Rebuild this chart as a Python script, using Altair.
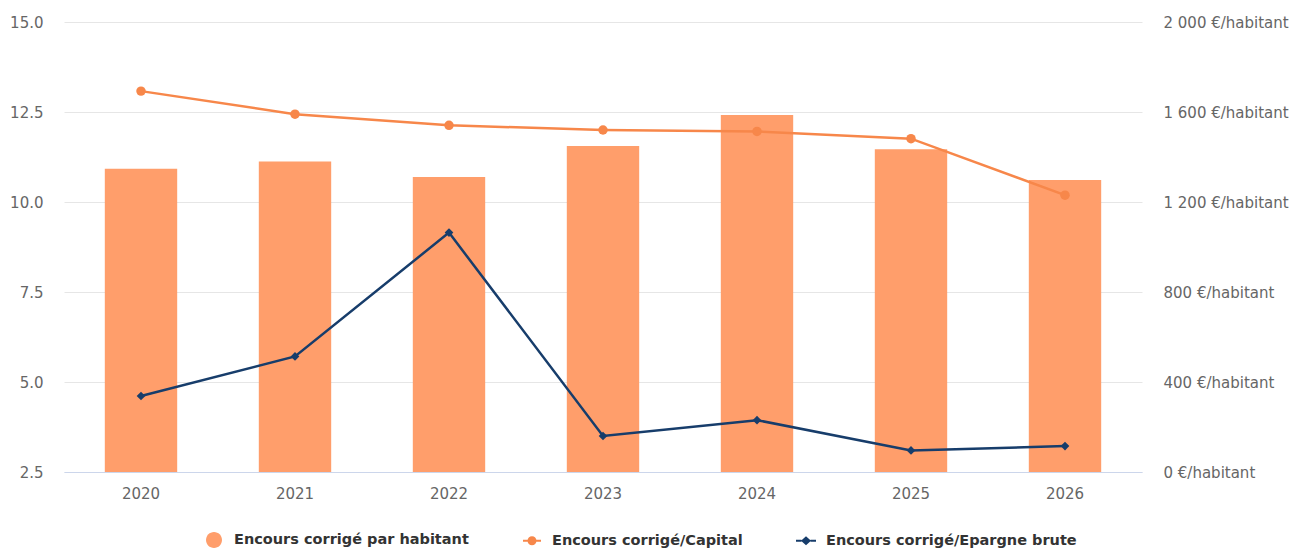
import altair as alt
import pandas as pd

# Series per year
years = ["2020", "2021", "2022", "2023", "2024", "2025", "2026"]
encours_par_habitant = [1348, 1380, 1311, 1449, 1587, 1434, 1298]   # €/habitant (right axis)
encours_capital = [13.08, 12.44, 12.13, 12.00, 11.96, 11.76, 10.19]  # ratio (left axis)
encours_epargne = [4.61, 5.71, 9.15, 3.50, 3.94, 3.10, 3.22]          # ratio (left axis)

series_names = [
    "Encours corrigé par habitant",
    "Encours corrigé/Capital",
    "Encours corrigé/Epargne brute",
]
series_colors = ["#FF9E6B", "#F7874A", "#173D6B"]

df = pd.DataFrame({
    "annee": years,
    "habitant": encours_par_habitant,
    "capital": encours_capital,
    "epargne": encours_epargne,
    "serie": series_names[0],
})

FONT = "DejaVu Sans"

# Legend symbols: a disc for the bars, line + marker for the two ratios
# (custom paths in the unit square, scaled by symbolSize)
disc = "M0.8,0A0.8,0.8 0 1,1 -0.8,0A0.8,0.8 0 1,1 0.8,0Z"
line_disc = ("M-0.9,-0.1L-0.4,-0.1L-0.4,0.1L-0.9,0.1Z"
             "M0.4,-0.1L0.9,-0.1L0.9,0.1L0.4,0.1Z"
             "M0.45,0A0.45,0.45 0 1,1 -0.45,0A0.45,0.45 0 1,1 0.45,0Z")
line_diamond = ("M-1,-0.1L-0.45,-0.1L-0.45,0.1L-1,0.1Z"
                "M0.45,-0.1L1,-0.1L1,0.1L0.45,0.1Z"
                "M0,-0.45L0.5,0L0,0.45L-0.5,0Z")
symbol_expr = (
    f"datum.value === '{series_names[0]}' ? '{disc}' : "
    f"(datum.value === '{series_names[1]}' ? '{line_disc}' : '{line_diamond}')"
)

x_enc = alt.X(
    "annee:N",
    sort=years,
    scale=alt.Scale(paddingInner=0.53, paddingOuter=0.265),
    axis=alt.Axis(
        title=None, labelAngle=0, ticks=False, domainColor="#CCD6EB",
        domainWidth=1, labelColor="#666666", labelFont=FONT,
        labelFontSize=15, labelPadding=14, grid=False,
    ),
)

bars = alt.Chart(df).mark_bar().encode(
    x=x_enc,
    y=alt.Y(
        "habitant:Q",
        scale=alt.Scale(domain=[0, 2000], nice=False),
        axis=alt.Axis(
            orient="right", title=None, values=[0, 400, 800, 1200, 1600, 2000],
            labelExpr="replace(format(datum.value, ','), ',', ' ') + ' €/habitant'",
            domain=False, ticks=False, grid=False, labelColor="#666666",
            labelFont=FONT, labelFontSize=15, labelPadding=21,
        ),
    ),
    color=alt.Color(
        "serie:N",
        scale=alt.Scale(domain=series_names, range=series_colors),
        legend=alt.Legend(
            title=None, orient="none", direction="horizontal",
            legendX=140, legendY=508, padding=0,
            symbolType=alt.ExprRef(expr=symbol_expr), symbolSize=400,
            symbolStrokeWidth=0, labelOffset=10, columnPadding=53,
            labelFont=FONT, labelFontSize=14.5, labelFontWeight="bold",
            labelColor="#333333", labelLimit=400,
        ),
    ),
)

y_ratio = alt.Y(
    "capital:Q",
    scale=alt.Scale(domain=[2.5, 15], nice=False, zero=False),
    axis=alt.Axis(
        orient="left", title=None, values=[2.5, 5, 7.5, 10, 12.5, 15],
        format=".1f", domain=False, ticks=False, grid=True,
        gridColor="#E6E6E6", gridWidth=1, labelColor="#666666",
        labelFont=FONT, labelFontSize=15, labelPadding=21,
    ),
)

base = alt.Chart(df).encode(x=alt.X("annee:N", sort=years))

capital_line = base.mark_line(color=series_colors[1], strokeWidth=2.5).encode(y=y_ratio)
capital_pts = base.mark_point(
    color=series_colors[1], filled=True, shape="circle", size=90, opacity=1
).encode(y=y_ratio)

y_epargne = alt.Y("epargne:Q", title=None)
epargne_line = base.mark_line(color=series_colors[2], strokeWidth=2.5).encode(y=y_epargne)
epargne_pts = base.mark_point(
    color=series_colors[2], filled=True, shape="diamond", size=75, opacity=1
).encode(y=y_epargne)

ratios = alt.layer(capital_line, capital_pts, epargne_line, epargne_pts)

chart = (
    alt.layer(bars, ratios)
    .resolve_scale(y="independent")
    .properties(
        width=1078,
        height=450,
        autosize=alt.AutoSizeParams(type="none"),
        padding={"left": 64, "top": 22, "right": 151, "bottom": 78},
        background="white",
    )
    .configure_view(stroke=None)
)

chart.save("out.html", embed_options={"renderer": "svg", "actions": False})
